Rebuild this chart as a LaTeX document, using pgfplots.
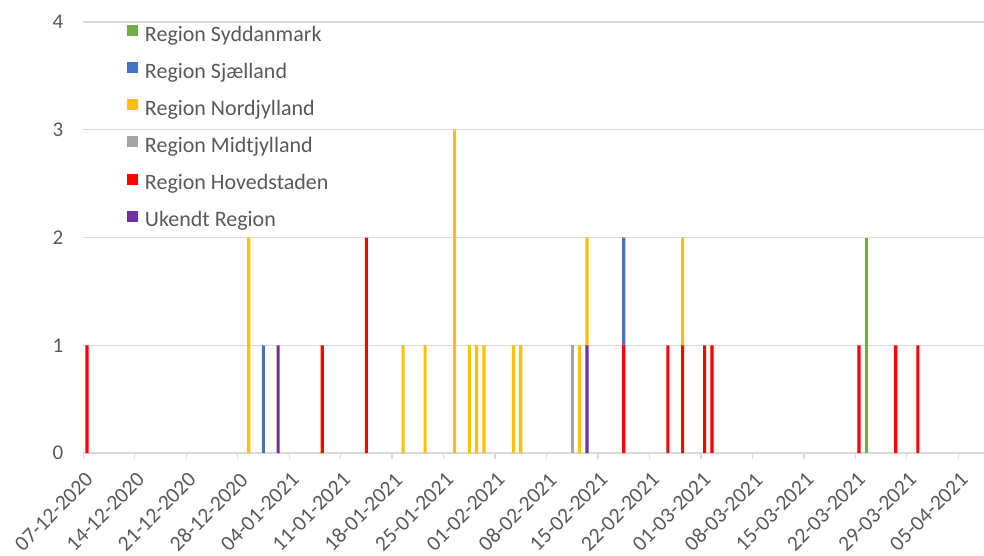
\documentclass[border=0pt]{standalone}
\usepackage{pgfplots}
\pgfplotsset{compat=1.18}
\usepackage{pgfplotstable}
\usepackage{fontspec}
\setmainfont{Carlito}
\definecolor{cY}{HTML}{70AD47}
\definecolor{cJ}{HTML}{4472C4}
\definecolor{cN}{HTML}{FFC000}
\definecolor{cM}{HTML}{A5A5A5}
\definecolor{cH}{HTML}{FF0000}
\definecolor{cU}{HTML}{7030A0}
\definecolor{gridgray}{HTML}{D9D9D9}
\definecolor{textgray}{HTML}{595959}
\pgfplotstableread{
x U H M N J Y
0.5 0 1 0 0 0 0
22.5 0 0 0 2 0 0
24.5 0 0 0 0 1 0
26.5 1 0 0 0 0 0
32.5 0 1 0 0 0 0
38.5 0 2 0 0 0 0
43.5 0 0 0 1 0 0
46.5 0 0 0 1 0 0
50.5 0 0 0 3 0 0
52.5 0 0 0 1 0 0
53.5 0 0 0 1 0 0
54.5 0 0 0 1 0 0
58.5 0 0 0 1 0 0
59.5 0 0 0 1 0 0
66.5 0 0 1 0 0 0
67.5 0 0 0 1 0 0
68.5 1 0 0 1 0 0
73.5 0 1 0 0 1 0
79.5 0 1 0 0 0 0
81.5 0 1 0 1 0 0
84.5 0 1 0 0 0 0
85.5 0 1 0 0 0 0
105.5 0 1 0 0 0 0
106.5 0 0 0 0 0 2
110.5 0 1 0 0 0 0
113.5 0 1 0 0 0 0
}\data
\begin{document}
\begin{tikzpicture}
\path[use as bounding box] (-83.3pt,-102pt) rectangle (900.7pt,453pt);
\begin{axis}[
  at={(0,0)}, anchor=south west,
  scale only axis, width=900.7pt, height=431pt,
  xmin=0, xmax=122.5, ymin=0, ymax=4,
  ybar stacked, bar width=0.42,
  axis line style={draw=none},
  ymajorgrids, grid style={gridgray, line width=1.3pt},
  ytick={0,1,2,3,4},
  ytick style={draw=none},
  xtick={0,7,...,119},
  xticklabels={07-12-2020,14-12-2020,21-12-2020,28-12-2020,04-01-2021,11-01-2021,18-01-2021,25-01-2021,01-02-2021,08-02-2021,15-02-2021,22-02-2021,01-03-2021,08-03-2021,15-03-2021,22-03-2021,29-03-2021,05-04-2021},
  xtick pos=bottom, tick align=outside, major tick length=6pt,
  xtick style={draw=gridgray, line width=1.3pt},
  yticklabel style={font=\fontsize{21}{24}\selectfont, text=textgray, inner sep=0pt, xshift=-13.8pt},
  xticklabel style={font=\fontsize{21.5}{24}\selectfont, text=textgray, inner sep=0pt, xshift=1pt, yshift=-12pt, rotate=45, anchor=north east},
  /pgf/number format/assume math mode=true,
  legend style={at={(0.0485,0.9923)}, anchor=north west, draw=none, fill=none, inner sep=0pt, outer sep=0pt,
    font=\fontsize{22}{24}\selectfont, text=textgray, row sep=16.3pt,
    nodes={inner sep=0pt, text height=14pt, text depth=4.5pt},
    /tikz/every odd column/.append style={column sep=7pt}},
  legend cell align=left,
  reverse legend,
  legend image code/.code={\fill[#1] (0pt,0.5pt) rectangle (11pt,11.5pt);},
]
\addplot[fill=cU, draw=none] table[x=x,y=U]{\data}; \addlegendentry{Ukendt Region}
\addplot[fill=cH, draw=none] table[x=x,y=H]{\data}; \addlegendentry{Region Hovedstaden}
\addplot[fill=cM, draw=none] table[x=x,y=M]{\data}; \addlegendentry{Region Midtjylland}
\addplot[fill=cN, draw=none] table[x=x,y=N]{\data}; \addlegendentry{Region Nordjylland}
\addplot[fill=cJ, draw=none] table[x=x,y=J]{\data}; \addlegendentry{Region Sjælland}
\addplot[fill=cY, draw=none] table[x=x,y=Y]{\data}; \addlegendentry{Region Syddanmark}
\end{axis}
\end{tikzpicture}
\end{document}
